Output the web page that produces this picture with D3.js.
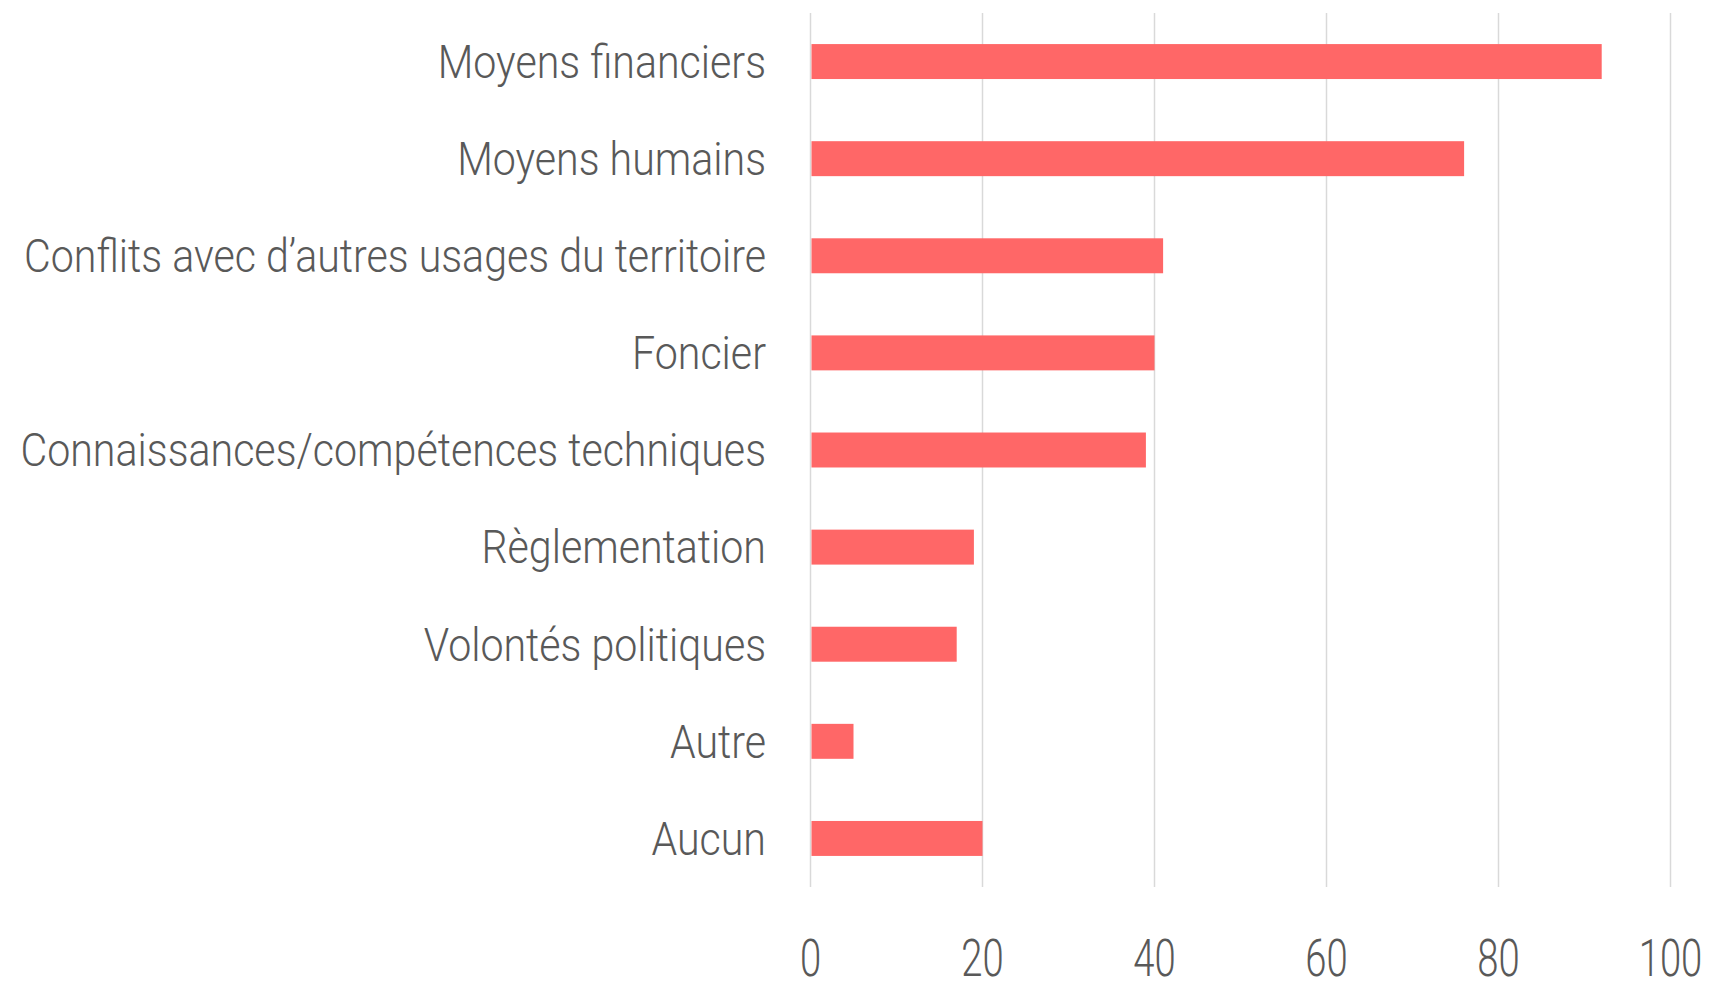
<!DOCTYPE html>
<html><head><meta charset="utf-8">
<script src="https://cdn.jsdelivr.net/npm/d3@7"></script>
<style>body{margin:0;background:#fff;}svg{display:block;}</style>
</head><body>
<svg id="c" width="1710" height="987"></svg>
<script>
const categories = ["Moyens financiers","Moyens humains","Conflits avec d’autres usages du territoire","Foncier","Connaissances/compétences techniques","Règlementation","Volontés politiques","Autre","Aucun"];
const values = [92,76,41,40,39,19,17,5,20];
const tickValues = [0,20,40,60,80,100];

const svg = d3.select("#c");
const x = d3.scaleLinear().domain([0,100]).range([810.5,1670.5]);
const y = d3.scaleBand().domain(categories).range([13,887]).paddingInner(0.64).paddingOuter(0.32);
const labelScale = 0.885, tickScale = 0.75;

svg.append("g").selectAll("line").data(tickValues).join("line")
  .attr("x1",d=>x(d)).attr("x2",d=>x(d)).attr("y1",13).attr("y2",887)
  .attr("stroke","#d9d9d9").attr("stroke-width",1.5);

svg.append("g").selectAll("rect").data(values).join("rect")
  .attr("x",x(0)+1).attr("y",(d,i)=>y(categories[i]))
  .attr("width",d=>x(d)-x(0)-1).attr("height",y.bandwidth())
  .attr("fill","#ff6767");

svg.append("g").selectAll("g").data(categories).join("g")
  .attr("transform",d=>`translate(766,${y(d)+y.bandwidth()/2}) scale(${labelScale},1)`)
  .append("text").attr("text-anchor","end").attr("dy","0.35em")
  .attr("font-family","Roboto").attr("font-weight",300).attr("font-size",46.5)
  .attr("fill","#595959").text(d=>d);

svg.append("g").selectAll("g").data(tickValues).join("g")
  .attr("transform",d=>`translate(${x(d)},976) scale(${tickScale},1)`)
  .append("text").attr("text-anchor","middle")
  .attr("font-family","Roboto").attr("font-weight",300).attr("font-size",51)
  .attr("fill","#595959").text(d=>d);
</script>
</body></html>
